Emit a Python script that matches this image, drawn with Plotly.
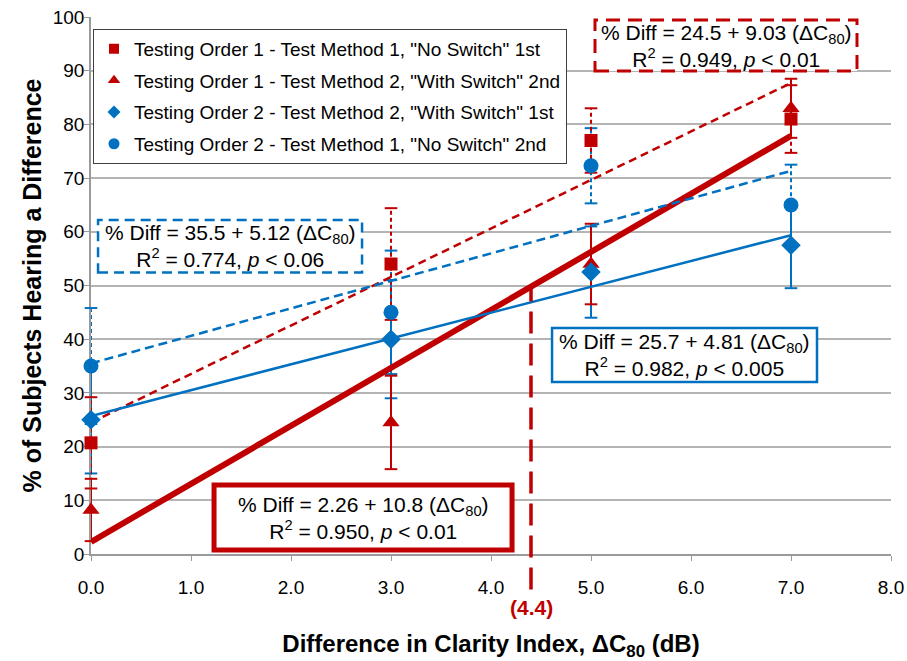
import plotly.graph_objects as go

# ---------------- data ----------------
x_vals = [0.0, 3.0, 5.0, 7.0]

sq_vals = [20.7, 54.0, 77.0, 81.0]      # Order 1 - Method 1 "No Switch" 1st
sq_err = [8.5, 10.4, 6.0, 6.3]
tri_vals = [8.2, 24.5, 54.0, 83.0]      # Order 1 - Method 2 "With Switch" 2nd
tri_err = [5.8, 8.7, 7.5, 5.5]
dia_vals = [25.0, 40.0, 52.5, 57.5]     # Order 2 - Method 2 "With Switch" 1st
dia_err = [10.0, 11.0, 8.5, 8.0]
cir_vals = [35.0, 45.0, 72.3, 65.0]     # Order 2 - Method 1 "No Switch" 2nd
cir_err = [10.8, 11.5, 7.0, 7.5]

series_names = [
    'Testing Order 1 - Test Method 1, "No Switch" 1st',
    'Testing Order 1 - Test Method 2, "With Switch" 2nd',
    'Testing Order 2 - Test Method 2, "With Switch" 1st',
    'Testing Order 2 - Test Method 1, "No Switch" 2nd',
]

# regression coefficients (intercept, slope) as printed on the chart
fit_intercepts = [24.5, 2.26, 25.7, 35.5]   # square, triangle, diamond, circle
fit_slopes = [9.03, 10.8, 4.81, 5.12]
fit_x = [0.0, 7.0]

crossover_x = 4.4

x_ticks = [0, 1, 2, 3, 4, 5, 6, 7, 8]
y_ticks = [0, 10, 20, 30, 40, 50, 60, 70, 80, 90, 100]

RED = "#C00000"
BLUE = "#0070C0"
FONT = "Arial, Liberation Sans, sans-serif"

fig = go.Figure()


def err_traces(xs, ys, es, color, dash):
    vx, vy, cx, cy = [], [], [], []
    for xv, yv, ev in zip(xs, ys, es):
        vx += [xv, xv, None]
        vy += [yv - ev, yv + ev, None]
        cx += [xv, xv]
        cy += [yv - ev, yv + ev]
    fig.add_trace(go.Scatter(x=vx, y=vy, mode="lines", showlegend=False, hoverinfo="skip",
                             cliponaxis=False,
                             line=dict(color=color, width=2, dash=dash)))
    fig.add_trace(go.Scatter(x=cx, y=cy, mode="markers", showlegend=False, hoverinfo="skip",
                             cliponaxis=False,
                             marker=dict(symbol="line-ew", size=9,
                                         line=dict(color=color, width=2))))


# error bars
err_traces(x_vals, cir_vals, cir_err, BLUE, "4px,3px")
err_traces(x_vals, dia_vals, dia_err, BLUE, "solid")
err_traces(x_vals, sq_vals, sq_err, RED, "4px,3px")
err_traces(x_vals, tri_vals, tri_err, RED, "solid")

# trend lines
fit_styles = [
    dict(color=RED, width=2.5, dash="8px,5px"),
    dict(color=RED, width=6, dash="solid"),
    dict(color=BLUE, width=2.5, dash="solid"),
    dict(color=BLUE, width=2.5, dash="9px,5px"),
]
for b0, b1, st in zip(fit_intercepts, fit_slopes, fit_styles):
    fig.add_trace(go.Scatter(x=fit_x, y=[b0 + b1 * xv for xv in fit_x], mode="lines",
                             showlegend=False, hoverinfo="skip", line=st, cliponaxis=False))

# markers
marker_specs = [
    (sq_vals, dict(symbol="square", size=13, color=RED)),
    (tri_vals, dict(symbol="triangle-up", size=15, color=RED)),
    (dia_vals, dict(symbol="diamond", size=15, color=BLUE)),
    (cir_vals, dict(symbol="circle", size=15, color=BLUE)),
]
for vals, mk in marker_specs:
    fig.add_trace(go.Scatter(x=x_vals, y=vals, mode="markers", showlegend=False, marker=mk,
                             cliponaxis=False))

# legend entries
legend_markers = [
    dict(symbol="square", size=10, color=RED),
    dict(symbol="triangle-up", size=11, color=RED),
    dict(symbol="diamond", size=10, color=BLUE),
    dict(symbol="circle", size=11, color=BLUE),
]
for i, (name, mk) in enumerate(zip(series_names, legend_markers)):
    fig.add_trace(go.Scatter(x=[None], y=[None], mode="markers", name=name, marker=mk,
                             legendgroup=f"g{i}"))

# crossover marker line
y_cross = fit_intercepts[1] + fit_slopes[1] * crossover_x
fig.add_shape(type="line", xref="x", yref="paper", x0=crossover_x, x1=crossover_x,
              y0=-0.066, y1=y_cross / 100.0, line=dict(color=RED, width=3.5, dash="22px,10px"))
fig.add_annotation(x=crossover_x, xref="x", y=-0.100, yref="paper", text="<b>(4.4)</b>",
                   showarrow=False, xanchor="center", yanchor="middle",
                   font=dict(family=FONT, size=21, color=RED))

# equation boxes
boxes = [
    # (x0, x1, y0, y1, border color, width, dash, text)
    (0.630, 0.9575, 0.8994, 0.9944, RED, 3, "14px,8px",
     "% Diff = 24.5 + 9.03 (ΔC<sub>80</sub>)<br>R<sup>2</sup> = 0.949, <i>p</i> < 0.01"),
    (0.0088, 0.3388, 0.524, 0.622, BLUE, 2.5, "10px,6px",
     "% Diff = 35.5 + 5.12 (ΔC<sub>80</sub>)<br>R<sup>2</sup> = 0.774, <i>p</i> < 0.06"),
    (0.5763, 0.9075, 0.3203, 0.4209, BLUE, 2.5, "solid",
     "% Diff = 25.7 + 4.81 (ΔC<sub>80</sub>)<br>R<sup>2</sup> = 0.982, <i>p</i> < 0.005"),
    (0.1538, 0.5263, 0.0074, 0.1285, RED, 5, "solid",
     "% Diff = 2.26 + 10.8 (ΔC<sub>80</sub>)<br>R<sup>2</sup> = 0.950, <i>p</i> < 0.01"),
]
for x0, x1, y0, y1, col, w, dash, txt in boxes:
    fig.add_shape(type="rect", xref="paper", yref="paper", x0=x0, x1=x1, y0=y0, y1=y1,
                  line=dict(color=col, width=w, dash=dash), fillcolor="white", layer="above")
    fig.add_annotation(xref="paper", yref="paper", x=(x0 + x1) / 2, y=(y0 + y1) / 2,
                       xanchor="center", yanchor="middle",
                       text=txt, showarrow=False, align="center",
                       font=dict(family=FONT, size=21, color="black"))

fig.update_layout(
    width=907, height=661,
    margin=dict(l=91, r=16, t=17, b=107),
    paper_bgcolor="white", plot_bgcolor="white",
    font=dict(family=FONT, color="black"),
    showlegend=True,
    legend=dict(x=0.0025, y=0.978, xanchor="left", yanchor="top", bgcolor="white",
                bordercolor="#404040", borderwidth=1, font=dict(family=FONT, size=19),
                traceorder="grouped", tracegroupgap=4, itemwidth=30),
    xaxis=dict(range=[0, 8], tickvals=x_ticks, tickformat=".1f", showgrid=False,
               showline=True, linecolor="#9A9A9A", linewidth=1.5, ticks="outside",
               ticklen=5, tickcolor="#9A9A9A", tickfont=dict(size=19), zeroline=False,
               automargin=False, ticklabelstandoff=10, layer="below traces",
               title=dict(text="<b>Difference in Clarity Index, ΔC<sub>80</sub> (dB)</b>",
                          font=dict(size=24), standoff=48)),
    yaxis=dict(range=[0, 100], tickvals=y_ticks, showgrid=True, gridcolor="#B4B4B4",
               gridwidth=1.5, showline=True, linecolor="#9A9A9A", linewidth=1.5,
               ticks="outside", ticklen=5, tickcolor="#9A9A9A", tickfont=dict(size=19),
               zeroline=False, automargin=False, ticklabelstandoff=-4, layer="below traces",
               title=dict(text="<b>% of Subjects Hearing a Difference</b>",
                          font=dict(size=25), standoff=4)),
)

fig.write_html("out.html", config={"displayModeBar": False},
               post_script="document.body.style.margin='0';")
